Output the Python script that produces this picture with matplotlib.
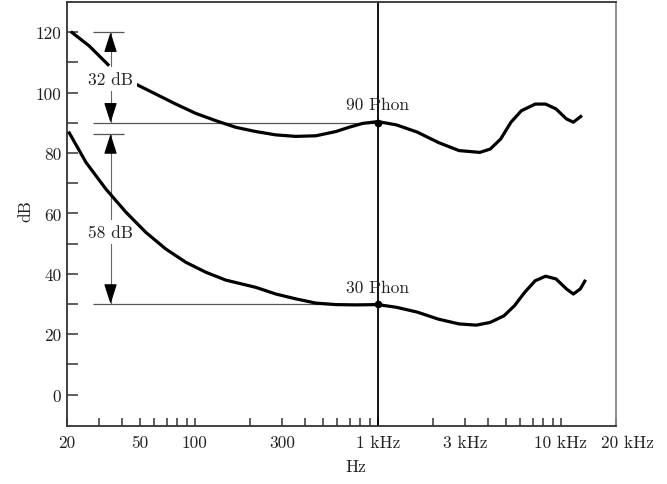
import matplotlib
matplotlib.use('Agg')
import matplotlib.pyplot as plt
import numpy as np

# equal-loudness contours; nan = gap behind the "32 dB" label
f90 = [21.0, 26.4, 34.0, np.nan, 47.6, 61.2, 78.7, 101.3, 130.2, 167.5, 215.4, 277, 356, 458,
       589, 694, 825, 1000, 1265, 1644, 2136, 2775, 3605, 4109, 4683, 5338, 6084,
       7238, 8250, 9404, 10720, 11700, 13040]
db90 = [120.2, 115.5, 108.9, np.nan, 102.8, 99.5, 96.2, 93.1, 90.7, 88.5, 87.1, 86.0, 85.5, 85.7,
        87.1, 88.5, 89.8, 90.4, 89.3, 86.9, 83.5, 80.8, 80.2, 81.3, 84.6, 90.2, 94.0,
        96.2, 96.2, 94.6, 91.3, 90.2, 92.4]

f30 = [20.4, 25.4, 32.6, 42.0, 54.0, 69.4, 89.3, 114.9, 147.7, 190, 215.4, 277, 356, 458,
       589, 758, 1000, 1265, 1644, 2136, 2775, 3452, 4109, 4889, 5572, 6351, 7238,
       8250, 9404, 10720, 11700, 12770, 13640]
db30 = [87.1, 76.9, 68.1, 60.4, 53.7, 48.2, 43.8, 40.5, 37.9, 36.3, 35.5, 33.3, 31.7, 30.3,
        29.8, 29.7, 29.8, 28.9, 27.3, 25.0, 23.4, 23.0, 23.9, 26.1, 29.4, 33.9, 37.7,
        39.2, 38.3, 35.0, 33.3, 35.0, 38.0]

major_f = [20, 50, 100, 300, 1000, 3000, 10000, 20000]
major_lbl = ['20', '50', '100', '300', '1 kHz', '3 kHz', '10 kHz', '']
minor_f = [30, 40, 60, 70, 80, 90, 200, 400, 500, 600, 700, 800, 900,
           2000, 4000, 5000, 6000, 7000, 8000, 9000]

ref_levels = [90, 30]
phon_labels = ['90 Phon', '30 Phon']
phon_y = [96.2, 35.6]
caps = [120, 86.3]
diffs = ['32 dB', '58 dB']
diff_y = [104.5, 53.8]

plt.rcParams['font.family'] = ['cmr10', 'DejaVu Serif']
plt.rcParams['font.size'] = 12.5

fig = plt.figure(figsize=(6.67, 4.85), dpi=100)
ax = fig.add_axes([0.1004, 0.1196, 0.8231, 0.8742])
ax.set_xscale('log')
ax.set_xlim(20, 20000)
ax.set_ylim(-10.4, 130)

tc = '#222222'
ax.plot(f90, db90, color='black', lw=2.3, solid_capstyle='butt',
        solid_joinstyle='round', zorder=3)
ax.plot(f30, db30, color='black', lw=2.3, solid_capstyle='butt',
        solid_joinstyle='round', zorder=7)

ax.axvline(1000, color='black', lw=1.3, zorder=2)
for lev, lab, ly in zip(ref_levels, phon_labels, phon_y):
    ax.hlines(lev, 27.7, 1000, color='#555555', lw=0.9, zorder=2)
    ax.plot([1000], [lev], 'o', color='black', ms=4.5, zorder=8)
    ax.text(1000, ly, lab, ha='center', va='center', color=tc, zorder=5)

# dB difference arrows
xa = 34.6
astyle = '-|>,head_length=1.0,head_width=0.32'
for top, bot, txt, ty in zip(caps, ref_levels, diffs, diff_y):
    ax.hlines(top, 27.7, 41, color='#555555', lw=0.9, zorder=2)
    ax.vlines(xa, bot, top, color='#666666', lw=0.8, zorder=2)
    ax.annotate('', xy=(xa, top), xytext=(xa, top - 6),
                arrowprops=dict(arrowstyle=astyle, color='black', lw=0.8,
                                shrinkA=0, shrinkB=0), zorder=4)
    ax.annotate('', xy=(xa, bot), xytext=(xa, bot + 6),
                arrowprops=dict(arrowstyle=astyle, color='black', lw=0.8,
                                shrinkA=0, shrinkB=0), zorder=4)
    ax.text(xa, ty, txt, ha='center', va='center', color=tc, zorder=6,
            bbox=dict(fc='white', ec='none', pad=3))

ax.set_xticks(major_f)
ax.set_xticklabels(major_lbl)
ax.set_xticks(minor_f, minor=True)
ax.xaxis.set_minor_formatter(matplotlib.ticker.NullFormatter())
ax.set_yticks(range(0, 121, 20))
ax.set_yticks(range(10, 121, 20), minor=True)
# last frequency label sits a little right of the frame
ax.annotate('20 kHz', xy=(1, 0), xycoords='axes fraction', xytext=(8, -6),
            textcoords='offset points', ha='center', va='top', color=tc)

ax.tick_params(axis='x', which='both', direction='in', length=6, width=1.1,
               color='#333333', labelcolor=tc, pad=6)
ax.tick_params(axis='y', which='both', direction='in', length=8, width=1.1,
               color='#333333', labelcolor=tc, pad=4)
ax.tick_params(top=False, right=False, which='both')

for s in ['left', 'bottom', 'top']:
    ax.spines[s].set_color('#333333')
    ax.spines[s].set_linewidth(1.3)
ax.spines['right'].set_color('#888888')
ax.spines['right'].set_linewidth(1.3)

ax.set_xlabel('Hz', color=tc)
ax.xaxis.set_label_coords(0.527, -0.078)
ax.set_ylabel('dB', color=tc)
ax.yaxis.set_label_coords(-0.062, 0.51)

fig.savefig('out.png', dpi=100)
